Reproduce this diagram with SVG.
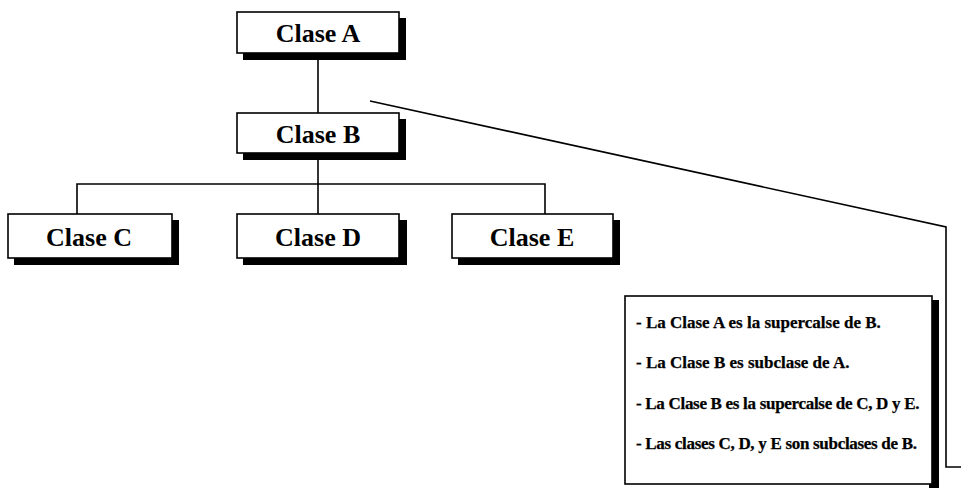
<svg xmlns="http://www.w3.org/2000/svg" width="961" height="488" viewBox="0 0 961 488">
  <style>
    .shadow { fill: #000; }
    .box { fill: #fff; stroke: #000; stroke-width: 1.6; }
    .label { font-family: "Liberation Serif", "Times New Roman", serif; font-weight: bold; font-size: 26px; fill: #000; text-anchor: middle; }
    .note { font-family: "Liberation Serif", "Times New Roman", serif; font-weight: bold; font-size: 17px; fill: #000; stroke: #000; stroke-width: 0.25; }
    .tight { letter-spacing: -0.3px; }
    .wire { fill: none; stroke: #000; stroke-width: 1.6; }
  </style>
  <rect width="961" height="488" fill="#fff"/>

  <!-- hierarchy lines -->
  <g id="connectors">
    <line class="wire" x1="318" y1="53" x2="318" y2="113"/>
    <line class="wire" x1="318" y1="153" x2="318" y2="214"/>
    <polyline class="wire" points="77,214 77,184 545,184 545,214"/>
    <!-- callout from the A-B link to the note -->
    <polyline class="wire" points="370,101 946,227 946,467 961,467"/>
  </g>

  <g id="claseA">
    <rect class="shadow" x="243" y="18" width="163" height="42"/>
    <rect class="box" x="237" y="12" width="162" height="41"/>
    <text class="label" x="318" y="42">Clase A</text>
  </g>

  <g id="claseB">
    <rect class="shadow" x="243" y="119" width="163" height="41"/>
    <rect class="box" x="237" y="113" width="162" height="40"/>
    <text class="label" x="318" y="143">Clase B</text>
  </g>

  <g id="claseC">
    <rect class="shadow" x="14" y="220" width="165" height="45"/>
    <rect class="box" x="8" y="214" width="164" height="44"/>
    <text class="label" x="89" y="246">Clase C</text>
  </g>

  <g id="claseD">
    <rect class="shadow" x="243" y="220" width="164" height="45"/>
    <rect class="box" x="237" y="214" width="162" height="44"/>
    <text class="label" x="318" y="246">Clase D</text>
  </g>

  <g id="claseE">
    <rect class="shadow" x="458" y="220" width="162" height="45"/>
    <rect class="box" x="452" y="214" width="161" height="44"/>
    <text class="label" x="532" y="246">Clase E</text>
  </g>

  <g id="note">
    <rect class="shadow" x="929" y="300" width="10" height="188"/>
    <rect class="box" x="625" y="296" width="307" height="188"/>
    <text class="note" x="636" y="328">- La Clase A es la supercalse de B.</text>
    <text class="note" x="636" y="368">- La Clase B es subclase de A.</text>
    <text class="note tight" x="636" y="409">- La Clase B es la supercalse de C, D y E.</text>
    <text class="note tight" x="636" y="449">- Las clases C, D, y E son subclases de B.</text>
  </g>
</svg>
